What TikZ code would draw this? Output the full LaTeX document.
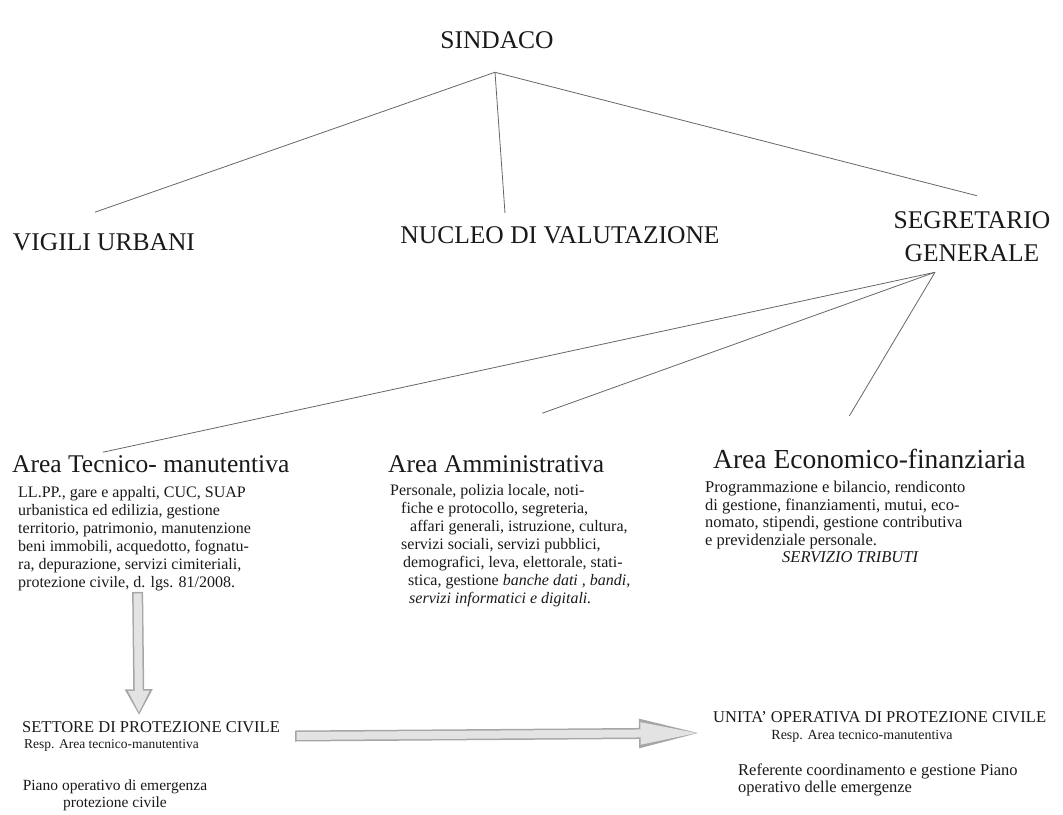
\documentclass[tikz,border=0pt]{standalone}
\usepackage{fontspec}
\setmainfont{Liberation Serif}
\usetikzlibrary{arrows.meta}

\tikzset{
  titolo/.style={inner sep=0pt, text=black!90, font=\fontsize{25.5}{33}\selectfont},
  testo/.style={inner sep=0pt, text=black!90, align=left, font=\fontsize{16}{18}\selectfont},
  sottotitolo/.style={inner sep=0pt, text=black!90, font=\fontsize{16.5}{19}\selectfont},
  piccolo/.style={inner sep=0pt, text=black!90, font=\fontsize{14}{17}\selectfont},
  nota/.style={inner sep=0pt, text=black!90, font=\fontsize{15.5}{16.5}\selectfont},
  linea/.style={draw=black!60, line width=0.8pt},
  freccia/.style={draw=gray!22, line width=8pt, line cap=butt,
    -{Triangle[length=#1,width=20pt]}, shorten >=2.5pt, shorten <=1.5pt,
    preaction={draw=gray!70, line width=11pt, -{Triangle[length=#1+4pt,width=26pt]},
      shorten >=0pt, shorten <=0pt}}
}

\begin{document}
\begin{tikzpicture}[x=1pt, y=-1pt]
    \useasboundingbox (0,0) rectangle (1063,814);

    %Vertice
    \node[titolo] (sindaco) at (497,40) {SINDACO};
    \coordinate (apexS) at ([xshift=-2pt,yshift=-23.5pt]sindaco.south);

    %Primo livello
    \node[titolo] (vigili) at (104,242) {VIGILI URBANI};
    \node[titolo] (nucleo) at (560,235) {NUCLEO DI VALUTAZIONE};
    \node[titolo, align=center] (segretario) at (972,237) {SEGRETARIO\\GENERALE};
    \coordinate (apexG) at ([xshift=-37pt,yshift=-10pt]segretario.south);

    \draw[linea] (apexS) -- ([xshift=-9pt,yshift=21pt]vigili.north);
    \draw[linea] (apexS) -- ([xshift=-55pt,yshift=13pt]nucleo.north);
    \draw[linea] (apexS) -- ([xshift=5pt,yshift=16pt]segretario.north);

    %Aree
    \node[titolo, anchor=west] (tecnico) at (12,464) {Area Tecnico- manutentiva};
    \node[titolo, anchor=west] (ammin) at (388,464) {Area Amministrativa};
    \node[titolo, anchor=west, font=\fontsize{27.5}{33}\selectfont] (econ) at (713,459) {Area Economico-finanziaria};

    \draw[linea] (apexG) -- ([xshift=-48pt,yshift=3pt]tecnico.north);
    \draw[linea] (apexG) -- ([xshift=46pt,yshift=42pt]ammin.north);
    \draw[linea] (apexG) -- ([xshift=-20pt,yshift=33pt]econ.north);

    %Competenze
    \node[testo, anchor=north west] (tecnicoTxt) at (18,486) {LL.PP., gare e appalti, CUC, SUAP\\
      urbanistica ed edilizia, gestione\\
      territorio, patrimonio, manutenzione\\
      beni immobili, acquedotto, fognatu-\\
      ra, depurazione, servizi cimiteriali,\\
      protezione civile, d. lgs. 81/2008.};
    \node[testo, anchor=north west] (amminTxt) at (390,484) {Personale, polizia locale, noti-\\
      \hspace*{11pt}fiche e protocollo, segreteria,\\
      \hspace*{20pt}affari generali, istruzione, cultura,\\
      \hspace*{11pt}servizi sociali, servizi pubblici,\\
      \hspace*{13pt}demografici, leva, elettorale, stati-\\
      \hspace*{18pt}stica, gestione \textit{banche dati , bandi,}\\
      \hspace*{19pt}\textit{servizi informatici e digitali.}};
    \node[testo, anchor=north west, font=\fontsize{16.5}{17.5}\selectfont] (econTxt) at (705,481) {Programmazione e bilancio, rendiconto\\
      di gestione, finanziamenti, mutui, eco-\\
      nomato, stipendi, gestione contributiva\\
      e previdenziale personale.\\
      \hspace*{77pt}\textit{SERVIZIO TRIBUTI}};

    %Protezione civile
    \node[sottotitolo, anchor=west] (settore) at (22,727) {SETTORE DI PROTEZIONE CIVILE};
    \node[piccolo, anchor=west, font=\fontsize{13.5}{16}\selectfont] (settoreResp) at (24,745) {Resp. Area tecnico-manutentiva};
    \node[nota, align=center, anchor=north] (settorePiano) at (115,780) {Piano operativo di emergenza\\protezione civile};

    \node[sottotitolo, anchor=west] (unita) at (713,717) {UNITA' OPERATIVA DI PROTEZIONE CIVILE};
    \node[piccolo] (unitaResp) at (862,736) {Resp. Area tecnico-manutentiva};
    \node[nota, align=left, anchor=north west, font=\fontsize{16.5}{16.5}\selectfont] (unitaRef) at (738,764) {Referente coordinamento e gestione Piano\\operativo delle emergenze};

    %frecce
    \draw[freccia=22pt] ([xshift=3pt,yshift=-1pt]tecnicoTxt.south) -- ([xshift=-12pt,yshift=6pt]settore.north);
    \draw[freccia=60pt] ([xshift=15pt,yshift=-9pt]settore.east) -- ([xshift=-10pt,yshift=-16pt]unita.west);
\end{tikzpicture}
\end{document}
